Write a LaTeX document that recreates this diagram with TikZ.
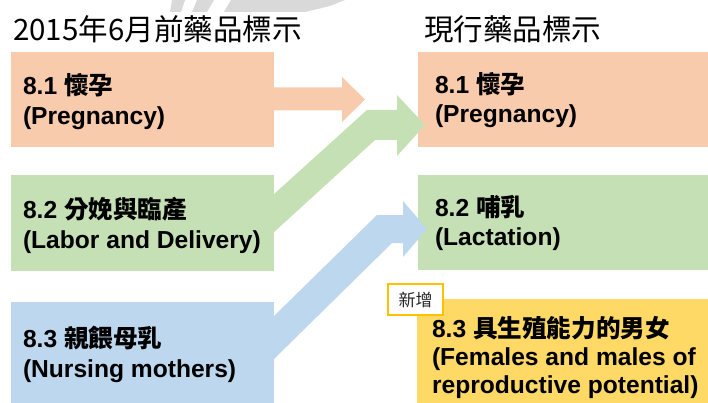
\documentclass[tikz,border=0pt]{standalone}
\usepackage{fontspec}
\setmainfont{Liberation Sans}
\newfontfamily\cjk{Noto Sans CJK TC}
\usetikzlibrary{calc}
\definecolor{cOrange}{HTML}{F8CBAD}
\definecolor{cGreen}{HTML}{C5E0B4}
\definecolor{cBlue}{HTML}{BDD7EE}
\definecolor{cYellow}{HTML}{FFD966}
\definecolor{cTag}{HTML}{FFC000}
\definecolor{cMark}{HTML}{D9D9D9}
\begin{document}
\begin{tikzpicture}[x=1pt,y=-1pt,
  boxshape/.style={anchor=north west, inner sep=0pt, outer sep=0pt, draw=none},
  boxtext/.style={anchor=west, inner sep=0pt, outer sep=0pt, align=left,
    font=\bfseries\fontsize{24.6}{30}\selectfont},
  boxtextR/.style={boxtext, font=\bfseries\fontsize{24.6}{29}\selectfont},
  boxtextY/.style={boxtext, font=\bfseries\fontsize{24.6}{28}\selectfont},
  titletext/.style={anchor=base west, inner sep=0pt, font=\cjk\fontsize{29.5}{32}\selectfont},
  tagbox/.style={draw=cTag, line width=1.5pt, fill=white, minimum width=55pt, minimum height=31pt,
    inner sep=0pt, font=\cjk\fontsize{17}{19}\selectfont, text=black!85}]
\useasboundingbox (0,0) rectangle (708,403);

% faint watermark remnants at the top
\fill[cMark] (172,0) -- (185,0) -- (181,12) -- (170,12) -- cycle;
\fill[cMark] (197,0) -- (214,0) -- (207,12) -- (192,12) -- cycle;
\fill[cMark] (231,0) -- (345,0) -- (330,6) -- (305,12) -- (224,12) -- cycle;

% titles
\node[titletext] (T1) at (13,41) {2015年6月前藥品標示};
\node[titletext] (T2) at (424,41) {現行藥品標示};

% left boxes
\node[boxshape, fill=cOrange, minimum width=263pt, minimum height=95pt] (L1) at (11,52) {};
\node[boxshape, fill=cGreen, minimum width=263pt, minimum height=96pt] (L2) at (11,175) {};
\node[boxshape, fill=cBlue, minimum width=263pt, minimum height=101pt] (L3) at (11,302) {};

% right boxes
\node[boxshape, fill=cOrange, minimum width=290pt, minimum height=95pt] (R1) at (418,52) {};
\node[boxshape, fill=cGreen, minimum width=290pt, minimum height=95pt] (R2) at (418,175) {};
\node[boxshape, fill=cYellow, minimum width=291pt, minimum height=104pt] (R3) at (417,299) {};

% texts
\node[boxtext] (L1t) at ($(L1.west)+(12,2)$) {8.1 {\cjk 懷孕}\\(Pregnancy)};
\node[boxtext] (L2t) at ($(L2.west)+(12,2)$) {8.2 {\cjk 分娩與臨產}\\(Labor and Delivery)};
\node[boxtext] (L3t) at ($(L3.west)+(12,2)$) {8.3 {\cjk 親餵母乳}\\(Nursing mothers)};
\node[boxtextR] (R1t) at ($(R1.west)+(17,1)$) {8.1 {\cjk 懷孕}\\(Pregnancy)};
\node[boxtextR] (R2t) at ($(R2.west)+(17,1)$) {8.2 {\cjk 哺乳}\\(Lactation)};
\node[boxtextY] (R3t) at ($(R3.west)+(15,6)$) {8.3 {\cjk 具生殖能力的男女}\\(Females and males of\\reproductive potential)};

% arrows
\begin{scope}[shift={(L1.east)}]
  \fill[cOrange] (-1,-12) -- (68,-12) -- (68,-22.5) -- (91,0) -- (68,22.5) -- (68,11) -- (-1,11) -- cycle;
\end{scope}
\begin{scope}[shift={(L2.east)}]
  \fill[cGreen] (-1,-28) -- (93,-113) -- (123,-113) -- (123,-128) -- (151,-98) -- (123,-67)
    -- (123,-83) -- (101,-83) -- (-1,10) -- cycle;
\end{scope}
\begin{scope}[shift={(L3.east)}]
  \fill[cBlue] (-1,-35.5) -- (103,-137.5) -- (129,-137.5) -- (129,-151.5) -- (153,-123.5)
    -- (129,-95.5) -- (129,-109.5) -- (118,-109.5) -- (-1,7.5) -- cycle;
\end{scope}

% tag
\node[tagbox] (tag) at (415.5,299.5) {新增};
\end{tikzpicture}
\end{document}
